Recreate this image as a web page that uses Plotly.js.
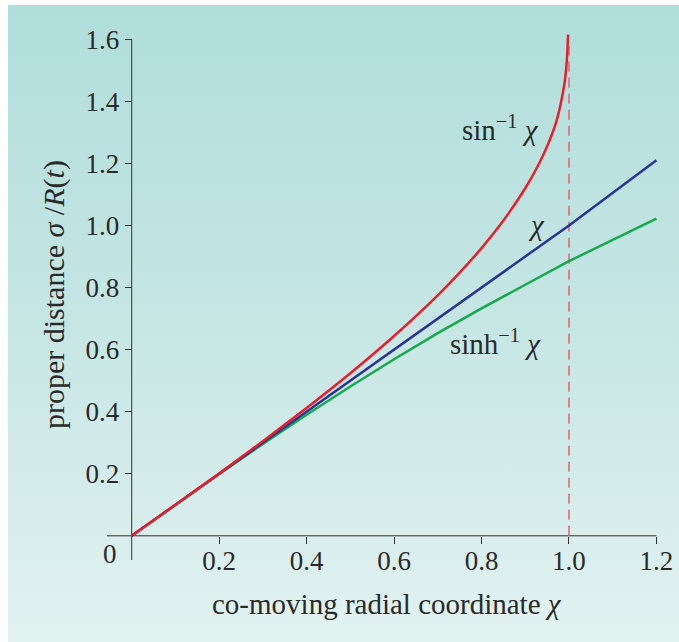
<!DOCTYPE html>
<html>
<head>
<meta charset="utf-8">
<script src="https://cdn.plot.ly/plotly-3.0.1.min.js"></script>
<style>
html,body{margin:0;padding:0;background:#ffffff;}
#bg{position:absolute;left:8px;top:5px;width:671px;height:637px;background:linear-gradient(to bottom,#b0dedb 0%,#c6e6e4 50%,#e2f2f1 100%);}
#chart{position:absolute;left:0;top:0;width:679px;height:642px;}
</style>
</head>
<body>
<div id="bg"></div>
<div id="chart"></div>
<script>
// Values
const asinX = [0, 0.1, 0.2, 0.3, 0.4, 0.5, 0.6, 0.7, 0.75, 0.8, 0.85, 0.9, 0.93, 0.95, 0.97, 0.98, 0.99, 0.995, 0.998];
const asinY = [0, 0.100, 0.201, 0.305, 0.412, 0.524, 0.644, 0.775, 0.848, 0.927, 1.016, 1.120, 1.195, 1.255, 1.330, 1.385, 1.460, 1.530, 1.615];
const chiX = [0, 0.2, 0.4, 0.6, 0.8, 1.0, 1.2];
const chiY = [0, 0.2, 0.4, 0.6, 0.8, 1.0, 1.21];
const asinhX = [0, 0.1, 0.2, 0.3, 0.4, 0.5, 0.6, 0.7, 0.8, 0.9, 1.0, 1.1, 1.2];
const asinhY = [0, 0.100, 0.199, 0.296, 0.390, 0.481, 0.569, 0.653, 0.733, 0.809, 0.885, 0.954, 1.022];
const limitX = [1.0, 1.0];
const limitY = [0, 1.58];
const xTicks = [0.2, 0.4, 0.6, 0.8, 1.0, 1.2];
const xTickText = ['0.2', '0.4', '0.6', '0.8', '1.0', '1.2'];
const yTicks = [0.2, 0.4, 0.6, 0.8, 1.0, 1.2, 1.4, 1.6];
const yTickText = ['0.2', '0.4', '0.6', '0.8', '1.0', '1.2', '1.4', '1.6'];

const xRange = [-0.0565, 1.215];
const yRange = [-0.078, 1.63];
const FONT = 'Liberation Serif, Times New Roman, serif';
const TXT = '#2a2a2a';
const TICKSIZE = 27;
const TITLESIZE = 29;
const LABELSIZE = 29;

const traces = [
  {x: limitX, y: limitY, mode: 'lines', line: {color: '#e26a78', width: 1.6, dash: '10px,6px'}, hoverinfo: 'skip'},
  {x: asinhX, y: asinhY, mode: 'lines', line: {color: '#17a94e', width: 2.5}},
  {x: chiX, y: chiY, mode: 'lines', line: {color: '#2b3394', width: 2.5}},
  {x: asinX, y: asinY, mode: 'lines', line: {color: '#ec1c2a', width: 2.5, shape: 'spline', smoothing: 0.6}}
];

const layout = {
  width: 679, height: 642,
  margin: {l: 107, r: 16.2, t: 30, b: 82.1},
  paper_bgcolor: 'rgba(0,0,0,0)',
  plot_bgcolor: 'rgba(0,0,0,0)',
  showlegend: false,
  font: {family: FONT, color: TXT, size: TICKSIZE},
  xaxis: {
    range: xRange, anchor: 'free', position: (0 - yRange[0]) / (yRange[1] - yRange[0]),
    showgrid: false, zeroline: false, showline: false,
    tickmode: 'array', tickvals: xTicks, ticktext: xTickText,
    ticks: 'outside', ticklen: 7, tickwidth: 1, tickcolor: '#333',
    ticklabelstandoff: -6,
    tickfont: {family: FONT, size: TICKSIZE, color: TXT}
  },
  yaxis: {
    range: yRange, anchor: 'free', position: (0 - xRange[0]) / (xRange[1] - xRange[0]),
    showgrid: false, zeroline: false, showline: false,
    tickmode: 'array', tickvals: yTicks, ticktext: yTickText,
    ticks: 'outside', ticklen: 7, tickwidth: 1, tickcolor: '#333',
    tickfont: {family: FONT, size: TICKSIZE, color: TXT}
  },
  shapes: [
    {type: 'line', xref: 'x', yref: 'y', x0: xRange[0], x1: 1.2, y0: 0, y1: 0, line: {color: '#333', width: 1}, layer: 'below'},
    {type: 'line', xref: 'x', yref: 'y', x0: 0, x1: 0, y0: yRange[0], y1: 1.6, line: {color: '#333', width: 1}, layer: 'below'}
  ],
  annotations: [
    {xref: 'x', yref: 'y', x: -0.05, y: -0.06, text: '0', showarrow: false, xanchor: 'center', yanchor: 'middle', font: {family: FONT, size: TICKSIZE, color: TXT}},
    {xref: 'x', yref: 'y', x: 0.843, y: 1.314, text: 'sin<sup>−1</sup> <i>χ</i>', showarrow: false, xanchor: 'center', yanchor: 'middle', font: {family: FONT, size: LABELSIZE, color: TXT}},
    {xref: 'x', yref: 'y', x: 0.925, y: 1.0, text: '<i>χ</i>', showarrow: false, xanchor: 'center', yanchor: 'middle', font: {family: FONT, size: LABELSIZE, color: TXT}},
    {xref: 'x', yref: 'y', x: 0.832, y: 0.625, text: 'sinh<sup>−1</sup> <i>χ</i>', showarrow: false, xanchor: 'center', yanchor: 'middle', font: {family: FONT, size: LABELSIZE, color: TXT}},
    {xref: 'paper', yref: 'paper', x: (387 - 107) / 555.8, y: (559.9 - 604) / 529.9, xanchor: 'center', yanchor: 'middle', text: 'co-moving radial coordinate <i>χ</i>', showarrow: false, font: {family: FONT, size: TITLESIZE, color: TXT}},
    {xref: 'paper', yref: 'paper', x: (54 - 107) / 555.8, y: (559.9 - 294) / 529.9, xanchor: 'center', yanchor: 'middle', textangle: -90, text: 'proper distance <i>σ</i> /<i>R</i>(<i>t</i>)', showarrow: false, font: {family: FONT, size: 30, color: TXT}}
  ]
};

Plotly.newPlot('chart', traces, layout, {displayModeBar: false, staticPlot: true});
</script>
</body>
</html>
